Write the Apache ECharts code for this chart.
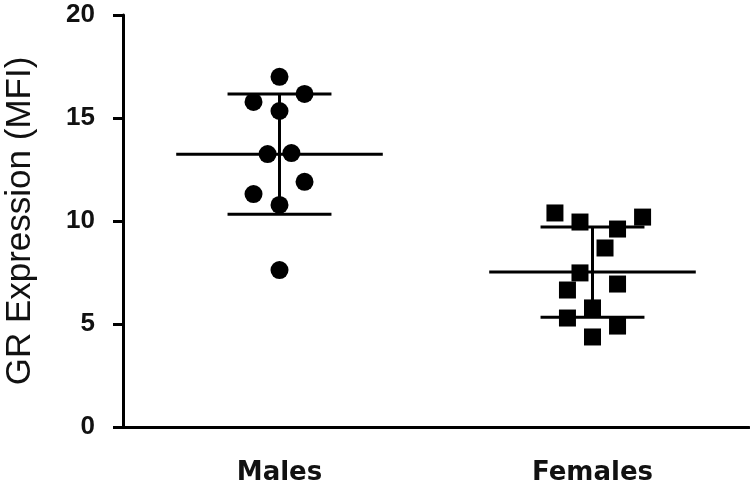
<!DOCTYPE html>
<html>
<head>
<meta charset="utf-8">
<script src="https://cdn.jsdelivr.net/npm/echarts@6/dist/echarts.min.js"></script>
<style>html,body{margin:0;padding:0;background:#fff}#c{width:750px;height:487px}</style>
</head>
<body>
<div id="c"></div>
<script>
// ---- data ----
var categories = ['Males', 'Females'];
var yTicks = [0, 5, 10, 15, 20];
var malesValues   = [17.0, 16.17, 15.78, 15.34, 13.3, 13.25, 11.9, 11.31, 10.78, 7.62];
var malesJitter   = [0, 0.08, -0.083, 0, 0.038, -0.038, 0.08, -0.083, 0, 0];
var femalesValues = [10.39, 9.95, 10.19, 9.61, 8.69, 7.48, 6.65, 6.94, 5.78, 5.29, 4.9, 4.37];
var femalesJitter = [-0.12, -0.04, 0.16, 0.08, 0.04, -0.04, -0.08, 0.08, 0, -0.08, 0.08, 0];

function mean(a){var s=0;a.forEach(function(v){s+=v;});return s/a.length;}
function sd(a){var m=mean(a),s=0;a.forEach(function(v){s+=(v-m)*(v-m);});return Math.sqrt(s/(a.length-1));}

var groups = [malesValues, femalesValues];
var summary = groups.map(function(g,i){return [i+0.5, mean(g), sd(g)];});

var MEAN_HALF = 0.33, CAP_HALF = 0.166;

function pts(vals, jit, idx){
  return vals.map(function(v,i){return [idx+0.5+jit[i], v];});
}

var chart = echarts.init(document.getElementById('c'));
var LW = 3;
chart.setOption({
  animation:false,
  grid:{left:123, right:1, top:15, bottom:60, containLabel:false, outerBoundsMode:'none'},
  xAxis:[{
    type:'category', data:categories, boundaryGap:true,
    axisLine:{lineStyle:{color:'#000', width:LW}},
    axisTick:{alignWithLabel:true, length:12, lineStyle:{color:'#000', width:LW}},
    axisLabel:{fontFamily:'DejaVu Sans', fontWeight:'bold', fontSize:26, color:'#111', margin:33},
    splitLine:{show:false}
  },{
    type:'value', min:0, max:2, show:false
  }],
  yAxis:{
    type:'value', min:0, max:20, interval:5,
    name:'GR Expression (MFI)', nameLocation:'middle', nameRotate:90, nameGap:85,
    nameTextStyle:{fontFamily:'Liberation Sans', fontSize:35, color:'#111'},
    axisLine:{show:true, lineStyle:{color:'#000', width:LW}},
    axisTick:{show:true, length:10, lineStyle:{color:'#000', width:LW}},
    axisLabel:{fontFamily:'Liberation Sans', fontWeight:'bold', fontSize:26, color:'#111', margin:28,
      formatter:function(v){return yTicks.indexOf(v)>=0 ? String(v) : '';}},
    splitLine:{show:false}
  },
  series:[{
    type:'custom', xAxisIndex:1, data:summary, z:1,
    renderItem:function(params, api){
      var c=api.value(0), m=api.value(1), s=api.value(2);
      var st={stroke:'#000', lineWidth:LW};
      function seg(x1,y1,x2,y2){var a=api.coord([x1,y1]),b=api.coord([x2,y2]);
        return {type:'line', shape:{x1:a[0],y1:a[1],x2:b[0],y2:b[1]}, style:st};}
      return {type:'group', children:[
        seg(c-MEAN_HALF,m,c+MEAN_HALF,m),
        seg(c,m-s,c,m+s),
        seg(c-CAP_HALF,m+s,c+CAP_HALF,m+s),
        seg(c-CAP_HALF,m-s,c+CAP_HALF,m-s)
      ]};
    }
  },{
    type:'scatter', xAxisIndex:1, data:pts(malesValues, malesJitter, 0),
    symbol:'circle', symbolSize:18, itemStyle:{color:'#000', opacity:1}, z:3
  },{
    type:'scatter', xAxisIndex:1, data:pts(femalesValues, femalesJitter, 1),
    symbol:'rect', symbolSize:17, itemStyle:{color:'#000', opacity:1}, z:3
  }]
});
</script>
</body>
</html>
